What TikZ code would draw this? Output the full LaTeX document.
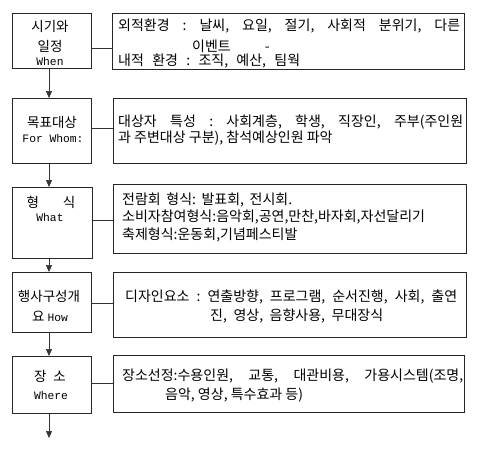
\documentclass[tikz,border=0pt]{standalone}
\usepackage{fontspec}
\setmainfont{Noto Sans CJK KR}
\newfontfamily\latf{Liberation Mono}
\usetikzlibrary{arrows.meta}
\frenchspacing
\tikzset{
  box/.style={draw=black!85, line width=0.9pt, inner sep=0pt, anchor=north west},
  conn/.style={draw=black!80, line width=0.7pt},
  arr/.style={conn, -{Triangle[length=7pt,width=6pt]}},
  txt/.style={inner sep=0pt, font=\fontsize{14}{16}\selectfont},
  ltxt/.style={inner sep=0pt, font=\fontsize{13.5}{16}\selectfont},
  lat/.style={inner sep=0pt, font=\latf\fontsize{11.3}{13}\selectfont},
}
\newcommand{\sline}[2]{\makebox[#1pt][s]{#2}}
\begin{document}
\frenchspacing
\begin{tikzpicture}[x=1pt,y=-1pt]
\useasboundingbox[fill=white] (0,0) rectangle (494,450);
% left boxes
\node[box, minimum width=79pt, minimum height=55pt] (l1) at (12,13) {};
\node[box, minimum width=79pt, minimum height=65pt] (l2) at (12,98) {};
\node[box, minimum width=80pt, minimum height=71pt] (l3) at (12,187) {};
\node[box, minimum width=79pt, minimum height=60pt] (l4) at (12,272) {};
\node[box, minimum width=79pt, minimum height=57pt] (l5) at (12,356) {};
% right boxes
\node[box, minimum width=352pt, minimum height=56pt] (r1) at (112,13) {};
\node[box, minimum width=353pt, minimum height=65pt] (r2) at (113,98) {};
\node[box, minimum width=353pt, minimum height=69pt] (r3) at (113,184) {};
\node[box, minimum width=353pt, minimum height=65pt] (r4) at (113,272) {};
\node[box, minimum width=351pt, minimum height=57pt] (r5) at (113,355) {};
% connectors
\draw[conn] (l1.east |- 0,48) -- (r1.west |- 0,48);
\draw[conn] (l2.east |- 0,128) -- (r2.west |- 0,128);
\draw[conn] (l3.east |- 0,220) -- (r3.west |- 0,220);
\draw[conn] (l4.east |- 0,303) -- (r4.west |- 0,303);
\draw[conn] (l5.east |- 0,383) -- (r5.west |- 0,383);
% arrows
\coordinate (end) at (49,438);
\draw[arr] (l1.south -| 49,0) -- (l2.north -| 49,0);
\draw[arr] (l2.south -| 49,0) -- (l3.north -| 49,0);
\draw[arr] (l3.south -| 49,0) -- (l4.north -| 49,0);
\draw[arr] (l4.south -| 49,0) -- (l5.north -| 49,0);
\draw[arr] (l5.south -| 49,0) -- (end);
% left texts
\node[ltxt] (a1) at (50,26) {시기와};
\node[ltxt] (a2) at (50,46) {일정};
\node[lat] (a3) at (50,61) {When};
\node[ltxt] (b1) at (52,122) {목표대상};
\node[lat] (b2) at (53,138) {For Whom:};
\node[ltxt] (c1) at (51,202) {형\hspace{24pt}식};
\node[lat] (c2) at (50,217) {What};
\node[ltxt] (d1) at (49,296) {행사구성개};
\node[ltxt] (d2) at (50,316) {요 {\latf\fontsize{11.3}{13}\selectfont How}};
\node[ltxt] (e1) at (50,376) {장\hspace{7pt}소};
\node[lat] (e2) at (51,395) {Where};
% right texts
\node[txt, anchor=west] (r1a) at (118,26) {\sline{342}{외적환경 : 날씨, 요일, 절기, 사회적 분위기, 다른}};
\node[txt, anchor=west] (r1b) at (192,46) {이벤트\hspace{34pt}-};
\node[txt, anchor=west] (r1c) at (118,61) {\sline{182}{내적 환경 : 조직, 예산, 팀웍}};
\node[txt, anchor=west] (r2a) at (118,122) {\sline{345}{대상자 특성 : 사회계층, 학생, 직장인, 주부(주인원}};
\node[txt, anchor=west] (r2b) at (118,138) {과 주변대상 구분), 참석예상인원 파악};
\node[txt, anchor=west] (r3a) at (122,200) {\sline{170}{전람회 형식: 발표회, 전시회.}};
\node[txt, anchor=west] (r3b) at (122,217) {소비자참여형식:음악회,공연,만찬,바자회,자선달리기};
\node[txt, anchor=west] (r3c) at (122,235) {축제형식:운동회,기념페스티발};
\node[txt, anchor=west] (r4a) at (125,297) {\sline{332}{디자인요소 : 연출방향, 프로그램, 순서진행, 사회, 출연}};
\node[txt, anchor=west] (r4b) at (210,316) {\sline{173}{진, 영상, 음향사용, 무대장식}};
\node[txt, anchor=west] (r5a) at (122,376) {\sline{341}{장소선정:수용인원, 교통, 대관비용, 가용시스템(조명,}};
\node[txt, anchor=west] (r5b) at (165,395) {음악, 영상, 특수효과 등)};
\end{tikzpicture}
\end{document}
